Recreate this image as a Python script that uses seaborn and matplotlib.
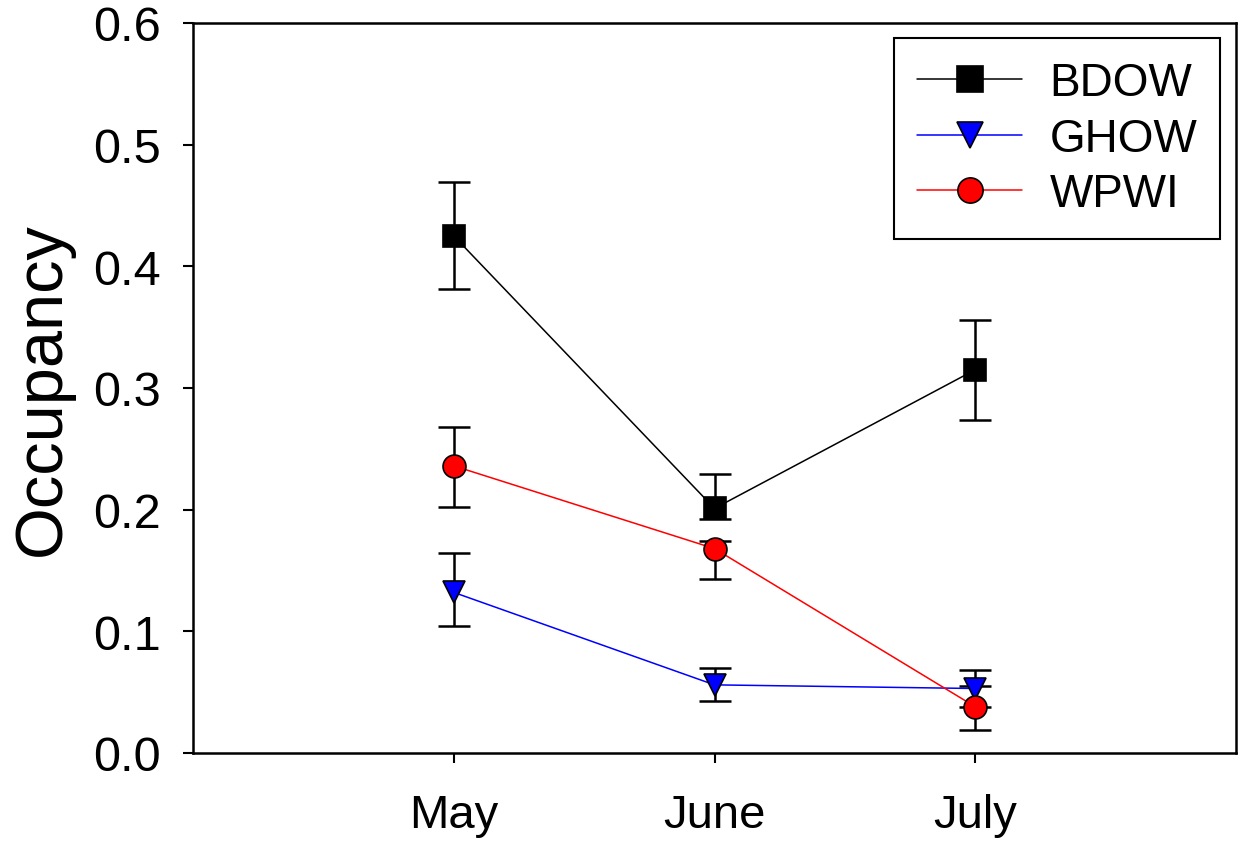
import matplotlib
matplotlib.use("Agg")
import matplotlib.pyplot as plt
import pandas as pd
import seaborn as sns

# Occupancy per month with lower/upper error bounds
months = ["May", "June", "July"]
month_pos = [1, 2, 3]
species = ["BDOW", "GHOW", "WPWI"]

bdow = [0.425, 0.201, 0.315]
bdow_lo = [0.381, 0.192, 0.274]
bdow_hi = [0.469, 0.229, 0.356]

ghow = [0.132, 0.056, 0.053]
ghow_lo = [0.104, 0.043, 0.038]
ghow_hi = [0.164, 0.070, 0.068]

wpwi = [0.236, 0.168, 0.038]
wpwi_lo = [0.202, 0.143, 0.019]
wpwi_hi = [0.268, 0.174, 0.055]

colors = {"BDOW": "black", "GHOW": "blue", "WPWI": "red"}
markers = {"BDOW": "s", "GHOW": "v", "WPWI": "o"}

sns.set_style("ticks")
plt.rcParams["font.family"] = ["Liberation Sans", "DejaVu Sans"]
plt.rcParams["text.color"] = "black"
plt.rcParams["axes.labelcolor"] = "black"

rows = []
for sp, vals, lo, hi in [("BDOW", bdow, bdow_lo, bdow_hi),
                         ("GHOW", ghow, ghow_lo, ghow_hi),
                         ("WPWI", wpwi, wpwi_lo, wpwi_hi)]:
    for x, v, l, h in zip(month_pos, vals, lo, hi):
        rows.append({"month": x, "species": sp, "occ": v, "lo": l, "hi": h})
df = pd.DataFrame(rows)

fig = plt.figure(figsize=(12.45, 8.45), dpi=100)
ax = fig.add_axes([0.155, 0.1077, 0.8378, 0.8639])

# error bars first, so markers sit on top
for sp in species:
    d = df[df["species"] == sp]
    ax.errorbar(d["month"], d["occ"],
                yerr=[d["occ"] - d["lo"], d["hi"] - d["occ"]],
                fmt="none", ecolor="black", elinewidth=1.8,
                capsize=11.5, capthick=1.8, zorder=2)

sns.lineplot(data=df, x="month", y="occ", hue="species", style="species",
             palette=colors, markers=markers, dashes=False,
             markersize=16.5, markeredgecolor="black", markeredgewidth=1.2,
             linewidth=1.1, ax=ax, zorder=3)

ax.set_xlim(0, 4)
ax.set_ylim(0, 0.6)
ax.set_xticks(month_pos)
ax.set_xticklabels(months, family=["Liberation Sans Narrow", "Liberation Sans"],
                   fontsize=34, color="black")
ax.set_yticks([0, 0.1, 0.2, 0.3, 0.4, 0.5, 0.6])
ax.set_yticklabels(["0.0", "0.1", "0.2", "0.3", "0.4", "0.5", "0.6"],
                   fontsize=35, color="black")
ax.tick_params(axis="both", direction="out", length=7, width=1.5, colors="black")
ax.tick_params(axis="x", pad=22)
ax.tick_params(axis="y", pad=16)
ax.set_xlabel("")
ax.set_ylabel("Occupancy", fontsize=48, labelpad=14)

for s in ax.spines.values():
    s.set_visible(True)
    s.set_linewidth(1.8)
    s.set_color("black")

leg = ax.legend(title=None, loc="upper right", bbox_to_anchor=(0.985, 0.979),
                fontsize=33, frameon=True, fancybox=False, framealpha=1,
                edgecolor="black", handlelength=2.3, handletextpad=0.6,
                labelspacing=0.25, borderpad=0.5, borderaxespad=0,
                markerscale=1.1)
leg.get_frame().set_linewidth(1.5)
for t in leg.get_texts():
    t.set_color("black")

fig.savefig("out.png", dpi=100)
